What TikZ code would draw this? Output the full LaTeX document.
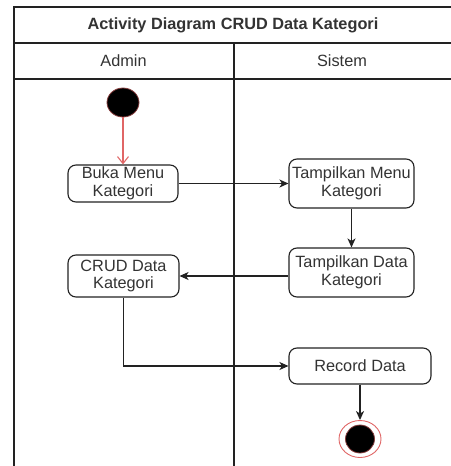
\documentclass[tikz,border=0pt]{standalone}
\usepackage{fontspec}
\setmainfont{Liberation Sans}
\usetikzlibrary{arrows.meta,shapes.geometric}
\definecolor{ink}{HTML}{222222}
\definecolor{txt}{HTML}{333333}
\definecolor{startred}{HTML}{E06666}
\begin{document}
\begin{tikzpicture}[x=1pt,y=-1pt,
  act/.style={draw=ink,line width=1.1pt,rounded corners=8pt,fill=white,
    text=txt,align=center,font=\fontsize{16.3}{17.5}\selectfont,inner sep=0pt},
  flow/.style={draw=ink,line width=1.1pt,-{Stealth[length=9pt,width=8pt,inset=2.5pt]}},
  lane/.style={draw=ink,line width=1.2pt},
  dot/.style={ellipse,fill=black,draw=startred!60!black,line width=0.8pt,inner sep=0pt}]
\useasboundingbox (0,0) rectangle (450,466);
% swimlane frame
\draw[lane] (451,7) -- (14,7) -- (14,466);
\draw[lane] (14,43) -- (451,43);
\draw[lane] (14,79) -- (451,79);
\draw[lane] (234,43) -- (234,466);
\node[text=txt,font=\bfseries\fontsize{16.3}{18}\selectfont] (title) at (233,25) {Activity Diagram CRUD Data Kategori};
\node[text=txt,font=\fontsize{16.3}{18}\selectfont] (lA) at (123.5,61) {Admin};
\node[text=txt,font=\fontsize{16.3}{18}\selectfont] (lS) at (342,61) {Sistem};
% start node
\node[dot,minimum width=32pt,minimum height=29pt] (start) at (123,102.5) {};
% activities
\node[act,minimum width=110pt,minimum height=37pt] (buka) at (123,183.5) {Buka Menu\\Kategori};
\node[act,minimum width=125pt,minimum height=49pt] (tmenu) at (351.5,183.5) {Tampilkan Menu\\Kategori};
\node[act,minimum width=125pt,minimum height=49pt] (tdata) at (351.5,272.5) {Tampilkan Data\\Kategori};
\node[act,minimum width=111pt,minimum height=42pt] (crud) at (123.5,276) {CRUD Data\\Kategori};
\node[act,minimum width=142pt,minimum height=36pt] (rec) at (360,366) {Record Data};
% end node
\node[ellipse,draw=startred,line width=0.9pt,fill=white,minimum width=42pt,minimum height=37pt,inner sep=0pt] (end) at (360,439) {};
\node[dot,minimum width=29pt,minimum height=28pt] (endin) at (end.center) {};
% transitions
\draw[draw=startred,line width=1.1pt,-{Straight Barb[length=7pt,width=11pt]}] (start) -- (buka);
\draw[flow] (buka) -- (tmenu);
\draw[flow] (tmenu) -- (tdata);
\draw[flow] (tdata.west |- crud.east) -- (crud.east);
\draw[flow] (crud.south) |- (rec.west);
\draw[flow] (rec) -- (end);
\end{tikzpicture}
\end{document}
